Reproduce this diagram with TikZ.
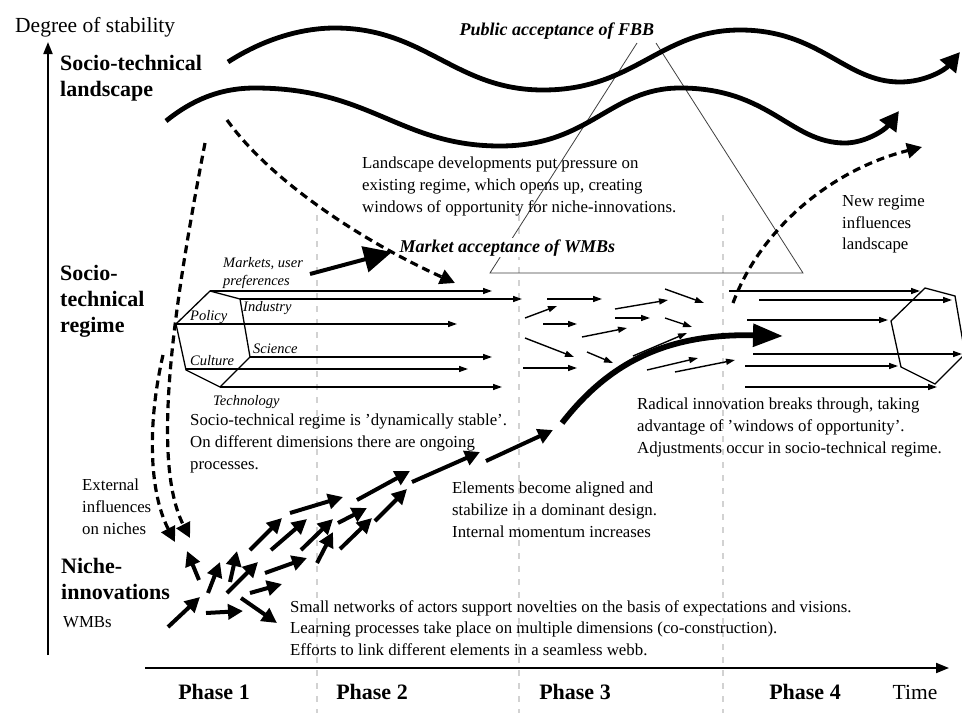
\documentclass[tikz,border=0pt]{standalone}
\usepackage{fontspec}
\setmainfont{Liberation Serif}
\usetikzlibrary{arrows.meta}

\begin{document}
\begin{tikzpicture}[x=1pt, y=-1pt,
    wave/.style={line width=4.8pt, -{Triangle[length=19pt,width=20pt]}},
    dimarrow/.style={line width=1.4pt, -{Triangle[length=9pt,width=6pt]}},
    nichearrow/.style={line width=4pt, -{Triangle[length=15pt,width=15pt]}},
    influence/.style={line width=3.2pt, dash pattern=on 8pt off 5pt, -{Triangle[length=15pt,width=15pt]}},
    phaseline/.style={gray!35, line width=2pt, dash pattern=on 6pt off 7pt},
    txt/.style={align=left, inner sep=0pt, font=\fontsize{16.8}{21.8}\selectfont},
    levellabel/.style={align=left, inner sep=0pt, font=\bfseries\fontsize{22}{26}\selectfont},
    dimlabel/.style={align=left, inner sep=0pt, font=\itshape\fontsize{14.5}{18}\selectfont},
    acceptance/.style={inner sep=1.5pt, fill=white, font=\bfseries\itshape\fontsize{18}{22}\selectfont},
    phaselabel/.style={inner sep=0pt, font=\bfseries\fontsize{22}{26}\selectfont}]
  \path[use as bounding box, fill=white] (0,0) rectangle (962,713);
  % Phase boundaries
  \foreach \x in {317,519,723}
    \draw[phaseline] (\x,215) -- (\x,713);
  % Axes
  \draw[line width=2pt, -{Triangle[length=12pt,width=9pt]}] (48,655) -- (48,42);
  \draw[line width=2pt, -{Triangle[length=13pt,width=10pt]}] (145,668) -- (949,668);
  \node[anchor=base west, inner sep=0pt, font=\fontsize{21.5}{26}\selectfont] (stability) at (15,32) {Degree of stability};
  \node[anchor=base, inner sep=0pt, font=\fontsize{21.5}{26}\selectfont] (time) at (915,699) {Time};
  \foreach \x/\n in {214/1,372/2,575/3,805/4}
    \node[phaselabel, anchor=base] (phase\n) at (\x,699) {Phase \n};
  % Acceptance triangle
  \draw[line width=0.8pt, black!75] (637,43) -- (490,273) -- (803,273) -- (656,43);
  % Landscape
  \draw[wave] (228,62) .. controls (262,40) and (300,28) .. (335,28)
    .. controls (425,28) and (455,90) .. (543,90)
    .. controls (635,90) and (660,30) .. (740,30)
    .. controls (820,30) and (845,82) .. (900,82)
    .. controls (925,82) and (945,70) .. (960,52);
  \draw[wave] (166,121) .. controls (192,100) and (220,88) .. (255,88)
    .. controls (370,88) and (400,146) .. (500,146)
    .. controls (590,146) and (610,88) .. (680,88)
    .. controls (770,88) and (790,143) .. (845,143)
    .. controls (865,143) and (885,130) .. (899,111);
  \node[acceptance, anchor=base west] (fbb) at (458,35) {Public acceptance of FBB};
  \node[acceptance, anchor=base west] (wmb) at (398,252) {Market acceptance of WMBs};
  % Influences between levels
  \draw[influence] (227,120) .. controls (270,180) and (360,240) .. (455,283);
  \draw[influence] (205,143) .. controls (175,300) and (150,460) .. (190,538);
  \draw[influence] (163,355) .. controls (148,420) and (148,490) .. (175,542);
  \draw[influence] (733,303) .. controls (760,230) and (830,170) .. (922,147);
  \draw[line width=4pt, -{Triangle[length=28pt,width=26pt]}] (310,274) -- (392,252);
  % Regime
  \foreach \dx/\dy in {0/0,715/-3}
    \draw[line width=1.3pt, shift={(\dx,\dy)}] (210,291) -- (240,299) -- (250,357) -- (220,387) -- (186,370) -- (176,324) -- cycle;
  \foreach \xa/\ya/\xb/\yb in {210/291/492/291, 240/299/522/299, 176/324/457/324, 250/357/492/357, 186/369/468/369, 220/387/502/387,
      547/299/602/299, 525/318/557/306, 543/324/577/324, 525/338/574/357, 523/368/577/368, 615/309/668/300, 615/318/650/318,
      582/337/627/328, 587/352/613/363, 665/289/704/303, 665/318/692/327, 633/356/687/333, 647/370/698/358, 675/372/735/360,
      729/291/920/291, 759/300/952/300, 747/320/888/320, 753/354/962/354, 745/366/898/366, 745/387/937/387}
    \draw[dimarrow] (\xa,\ya) -- (\xb,\yb);
  \node[dimlabel, anchor=north west] (markets) at (223,257) {Markets, user\\preferences};
  \node[dimlabel, anchor=base west] (industry) at (243,311) {Industry};
  \node[dimlabel, anchor=base west] (policy) at (190,320) {Policy};
  \node[dimlabel, anchor=base west] (science) at (253,353) {Science};
  \node[dimlabel, anchor=base west] (culture) at (190,365) {Culture};
  \node[dimlabel, anchor=base west] (technology) at (213,405) {Technology};
  % Niches
  \foreach \xa/\ya/\xb/\yb in {168/627/200/597, 206/613/243/611, 241/598/277/623, 199/580/187/551, 208/593/220/562,
      230/582/237/551, 227/593/258/562, 250/593/282/584, 250/550/282/518, 265/573/307/558, 271/550/307/519,
      290/513/343/497, 301/550/333/519, 317/563/333/532, 338/523/367/508, 340/549/372/518, 357/500/410/471,
      375/521/407/489, 412/482/480/452, 486/461/553/430}
    \draw[nichearrow] (\xa,\ya) -- (\xb,\yb);
  \draw[line width=5.8pt, -{Triangle[length=30pt,width=22pt]}] (562,423) .. controls (605,368) and (660,333) .. (783,336);
  % Labels
  \node[levellabel, anchor=north west] (landscape) at (60,55) {Socio-technical\\landscape};
  \node[levellabel, anchor=north west] (regime) at (60,265) {Socio-\\technical\\regime};
  \node[levellabel, anchor=north west] (niche) at (61,558) {Niche-\\innovations};
  \node[txt, anchor=base west] (wmbs) at (63,627) {WMBs};
  \node[txt, anchor=north west] (external) at (82,479) {External\\influences\\on niches};
  \node[txt, anchor=north west] (pressure) at (362,157) {Landscape developments put pressure on\\existing regime, which opens up, creating\\windows of opportunity for niche-innovations.};
  \node[txt, anchor=north west] (newregime) at (842,195) {New regime\\influences\\landscape};
  \node[txt, anchor=north west] (stable) at (190,414) {Socio-technical regime is 'dynamically stable'.\\On different dimensions there are ongoing\\processes.};
  \node[txt, anchor=north west] (aligned) at (452,482) {Elements become aligned and\\stabilize in a dominant design.\\Internal momentum increases};
  \node[txt, anchor=north west] (radical) at (637,398) {Radical innovation breaks through, taking\\advantage of 'windows of opportunity'.\\Adjustments occur in socio-technical regime.};
  \node[txt, anchor=north west] (networks) at (290,600) {Small networks of actors support novelties on the basis of expectations and visions.\\Learning processes take place on multiple dimensions (co-construction).\\Efforts to link different elements in a seamless webb.};
\end{tikzpicture}
\end{document}
